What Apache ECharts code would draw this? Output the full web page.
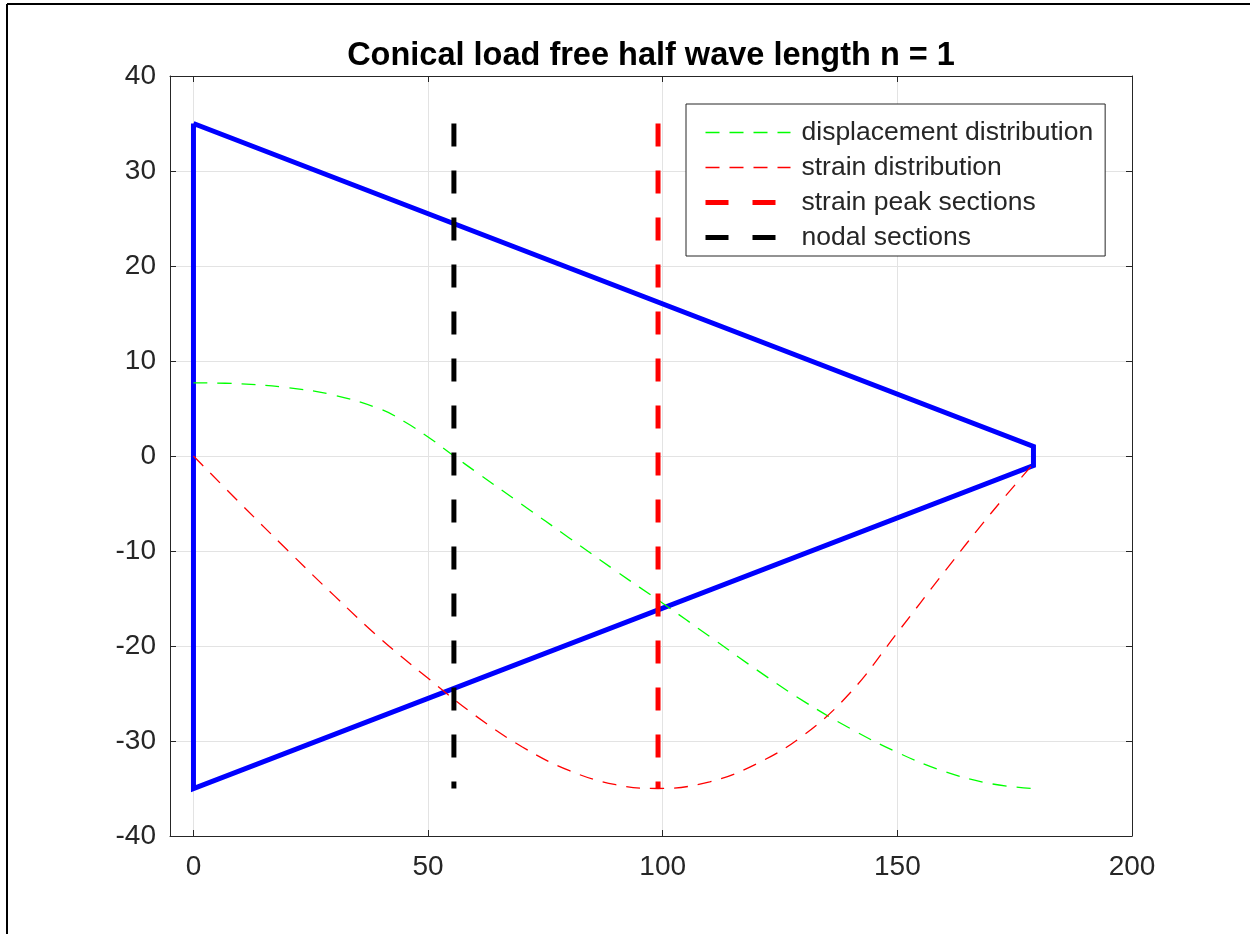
<!DOCTYPE html>
<html>
<head>
<meta charset="utf-8">
<title>Conical load free half wave length</title>
<script src="https://cdn.jsdelivr.net/npm/echarts@6/dist/echarts.min.js"></script>
<style>
  html, body { margin: 0; padding: 0; background: #fff; }
  #main { width: 1250px; height: 934px; }
</style>
</head>
<body>
<div id="main"></div>
<script>
// horn outline (x, radius)
const hornX = [0, 179, 179, 0, 0];
const hornY = [35, 1, -1, -35, 35];

// displacement distribution
const dispX = [0, 10, 20, 30, 40, 45, 50, 55.5, 60, 70, 80, 90, 100, 110, 120, 130, 140, 150, 160, 170, 179];
const dispY = [7.7, 7.6, 7.2, 6.4, 4.9, 3.6, 2.0, 0, -1.6, -5.1, -8.6, -12.1, -15.5, -19.0, -22.5, -25.8, -28.7, -31.2, -33.2, -34.5, -35];

// strain distribution
const strainX = [0, 10, 20, 30, 40, 50, 60, 70, 80, 90, 99, 110, 120, 130, 140, 150, 160, 170, 179];
const strainY = [0, -5.0, -9.9, -14.7, -19.3, -23.4, -27.3, -30.6, -33.1, -34.6, -35, -34.3, -32.4, -29.4, -24.9, -18.6, -12.2, -6.0, -0.8];

// sections
const peakX = [99, 99];
const peakY = [35, -35];
const nodeX = [55.5, 55.5];
const nodeY = [35, -35];

const xTicks = [0, 50, 100, 150, 200];
const titleText = 'Conical load free half wave length n = 1';
const legendNames = ['displacement distribution', 'strain distribution', 'strain peak sections', 'nodal sections'];

const pairs = (xs, ys) => xs.map((x, i) => [x, ys[i]]);

const font = 'Liberation Sans, Arial, Helvetica, sans-serif';
const ink = '#262626';
const thin = 1.3;

const chart = echarts.init(document.getElementById('main'), null, { renderer: 'canvas' });

const boxAxis = {
  axisLine: { show: true, onZero: false, lineStyle: { color: ink, width: 1 } },
  axisTick: { show: true, inside: true, length: 6, lineStyle: { color: ink } }
};

chart.setOption({
  backgroundColor: '#fff',
  animation: false,
  title: {
    text: titleText,
    left: 646,
    top: 35,
    textAlign: 'center',
    textStyle: { fontFamily: font, fontSize: 32.5, fontWeight: 'bold', color: '#000' }
  },
  grid: { left: 170, right: 118, top: 76, bottom: 98, containLabel: false },
  legend: {
    orient: 'vertical',
    left: 686,
    top: 104,
    padding: [15, 12, 5, 17],
    itemGap: 8,
    itemWidth: 85,
    itemHeight: 24,
    backgroundColor: '#fff',
    borderColor: ink,
    borderWidth: 1,
    borderRadius: 0,
    itemStyle: { opacity: 0 },
    textStyle: { fontFamily: font, fontSize: 26.5, color: ink, padding: [0, 0, 0, 6] },
    data: [
      { name: legendNames[0], lineStyle: { width: thin, color: '#00ff00' } },
      { name: legendNames[1], lineStyle: { width: thin, color: '#ff0000' } },
      { name: legendNames[2], lineStyle: { width: 5, color: '#ff0000' } },
      { name: legendNames[3], lineStyle: { width: 5, color: '#000000' } }
    ]
  },
  xAxis: [
    Object.assign({
      type: 'value',
      position: 'bottom',
      min: -5,
      max: 200,
      axisLabel: { customValues: xTicks, margin: 17, fontFamily: font, fontSize: 28, color: ink },
      splitLine: { show: true, lineStyle: { color: '#e3e3e3', width: 1 } }
    }, boxAxis, { axisTick: Object.assign({}, boxAxis.axisTick, { customValues: xTicks }) }),
    Object.assign({
      type: 'value',
      position: 'top',
      min: -5,
      max: 200,
      axisLabel: { show: false },
      splitLine: { show: false }
    }, boxAxis, { axisTick: Object.assign({}, boxAxis.axisTick, { customValues: xTicks }) })
  ],
  yAxis: [
    Object.assign({
      type: 'value',
      position: 'left',
      min: -40,
      max: 40,
      interval: 10,
      axisLabel: { margin: 14, fontFamily: font, fontSize: 28, color: ink },
      splitLine: { show: true, lineStyle: { color: '#e3e3e3', width: 1 } }
    }, boxAxis),
    Object.assign({
      type: 'value',
      position: 'right',
      min: -40,
      max: 40,
      interval: 10,
      axisLabel: { show: false },
      splitLine: { show: false }
    }, boxAxis)
  ],
  series: [
    {
      name: 'horn',
      type: 'line',
      data: pairs(hornX, hornY),
      symbol: 'none',
      lineStyle: { color: '#0000ff', width: 5, join: 'miter' },
      z: 2
    },
    {
      name: legendNames[0],
      type: 'line',
      data: pairs(dispX, dispY),
      smooth: 0.4,
      symbol: 'none',
      itemStyle: { color: '#00ff00' },
      lineStyle: { color: '#00ff00', width: thin, type: [14, 10] },
      z: 3
    },
    {
      name: legendNames[1],
      type: 'line',
      data: pairs(strainX, strainY),
      smooth: 0.4,
      symbol: 'none',
      itemStyle: { color: '#ff0000' },
      lineStyle: { color: '#ff0000', width: thin, type: [14, 10] },
      z: 3
    },
    {
      name: legendNames[2],
      type: 'line',
      data: pairs(peakX, peakY),
      symbol: 'none',
      itemStyle: { color: '#ff0000' },
      lineStyle: { color: '#ff0000', width: 5, type: [23, 24] },
      z: 4
    },
    {
      name: legendNames[3],
      type: 'line',
      data: pairs(nodeX, nodeY),
      symbol: 'none',
      itemStyle: { color: '#000000' },
      lineStyle: { color: '#000000', width: 5, type: [23, 24] },
      z: 4
    }
  ],
  graphic: [
    { type: 'line', shape: { x1: 7, y1: 4, x2: 1250, y2: 4 }, style: { stroke: '#000', lineWidth: 2 } },
    { type: 'line', shape: { x1: 7, y1: 4, x2: 7, y2: 934 }, style: { stroke: '#000', lineWidth: 2 } }
  ]
});
</script>
</body>
</html>
